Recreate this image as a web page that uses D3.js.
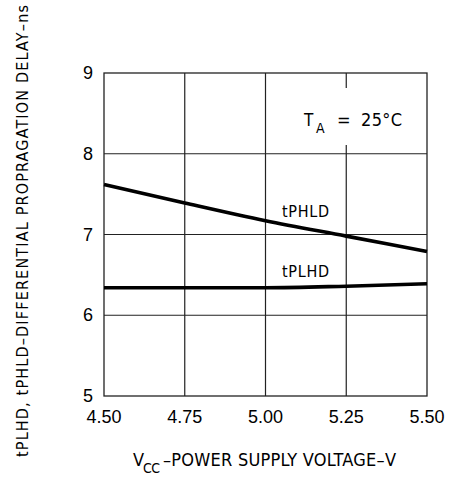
<!DOCTYPE html>
<html>
<head>
<meta charset="utf-8">
<script src="https://cdn.jsdelivr.net/npm/d3@7"></script>
<style>
  body { margin: 0; background: #fff; }
  text { fill: #000; }
</style>
</head>
<body>
<script>
// supply voltage (V) and delays (ns)
var vcc = [4.50, 4.75, 5.00, 5.25, 5.50];
var tPHLD = [7.62, 7.39, 7.17, 6.98, 6.79];
var tPLHD = [6.34, 6.34, 6.34, 6.36, 6.39];
var xTicks = [4.50, 4.75, 5.00, 5.25, 5.50];
var yTicks = [5, 6, 7, 8, 9];

var svgW = 451, svgH = 477;
var plot = {left: 104, top: 73, right: 427, bottom: 396};

var svg = d3.select("body")
    .append('svg')
    .attr('width', svgW)
    .attr('height', svgH);

var x = d3.scaleLinear().domain([4.5, 5.5]).range([plot.left, plot.right]);
var y = d3.scaleLinear().domain([5, 9]).range([plot.bottom, plot.top]);

//grid lines (vertical one at 5.25 is broken round the T_A note)
svg.selectAll('.vgrid')
    .data(xTicks.slice(1, -1))
    .enter().append('line')
    .attr('x1', d => x(d)).attr('x2', d => x(d))
    .attr('y1', plot.top).attr('y2', plot.bottom)
    .style('stroke', '#222').style('stroke-width', 1.2)
    .style('stroke-dasharray', d => d === 5.25 ? '15,57,300' : null);

svg.selectAll('.hgrid')
    .data(yTicks.slice(1, -1))
    .enter().append('line')
    .attr('x1', plot.left).attr('x2', plot.right)
    .attr('y1', d => y(d)).attr('y2', d => y(d))
    .style('stroke', '#222').style('stroke-width', 1.2);

//frame
svg.append('rect')
    .attr('x', plot.left).attr('y', plot.top)
    .attr('width', plot.right - plot.left)
    .attr('height', plot.bottom - plot.top)
    .style('fill', 'none').style('stroke', '#222').style('stroke-width', 1.3);

//curves
var line = d3.line()
    .x((d, i) => x(vcc[i]))
    .y(d => y(d))
    .curve(d3.curveMonotoneX);

[tPHLD, tPLHD].forEach(function (s) {
    svg.append('path')
        .attr('d', line(s))
        .style('fill', 'none')
        .style('stroke', '#000')
        .style('stroke-width', 3.6);
});

//tick labels
var tickFont = 'Liberation Sans, Arial, sans-serif';
svg.selectAll('.ylab')
    .data(yTicks)
    .enter().append('text')
    .attr('x', plot.left - 11)
    .attr('y', d => y(d) + 6)
    .attr('text-anchor', 'end')
    .style('font-family', tickFont).style('font-size', '18px')
    .text(d => d);

svg.selectAll('.xlab')
    .data(xTicks)
    .enter().append('text')
    .attr('x', d => x(d))
    .attr('y', plot.bottom + 27)
    .attr('text-anchor', 'middle')
    .style('font-family', tickFont).style('font-size', '18px')
    .text(d => d.toFixed(2));

//labels in plotter style
var labFont = 'DejaVu Sans Condensed, DejaVu Sans, sans-serif';
function label(txt, lx, ly, size, len) {
    var t = svg.append('text')
        .attr('x', lx).attr('y', ly)
        .style('font-family', labFont).style('font-size', size + 'px')
        .text(txt);
    if (len) t.attr('textLength', len).attr('lengthAdjust', 'spacing');
    return t;
}

label('tPHLD', 282, 217, 16, 47);
label('tPLHD', 282, 277, 16, 47);

label('T', 304, 126, 17);
label('A', 316, 133, 14);
label('=', 337, 126, 18, 9);
label('25\u00B0C', 361, 126, 18, 41);

label('V', 133, 466, 18);
label('CC', 143, 473, 14, 17);
label('\u2013POWER SUPPLY VOLTAGE\u2013V', 163, 466, 18, 233);

svg.append('text')
    .attr('transform', 'translate(28,457) rotate(-90)')
    .style('font-family', labFont).style('font-size', '16px')
    .attr('textLength', 452).attr('lengthAdjust', 'spacing')
    .text('tPLHD, tPHLD\u2013DIFFERENTIAL PROPRAGATION DELAY\u2013ns');
</script>
</body>
</html>
